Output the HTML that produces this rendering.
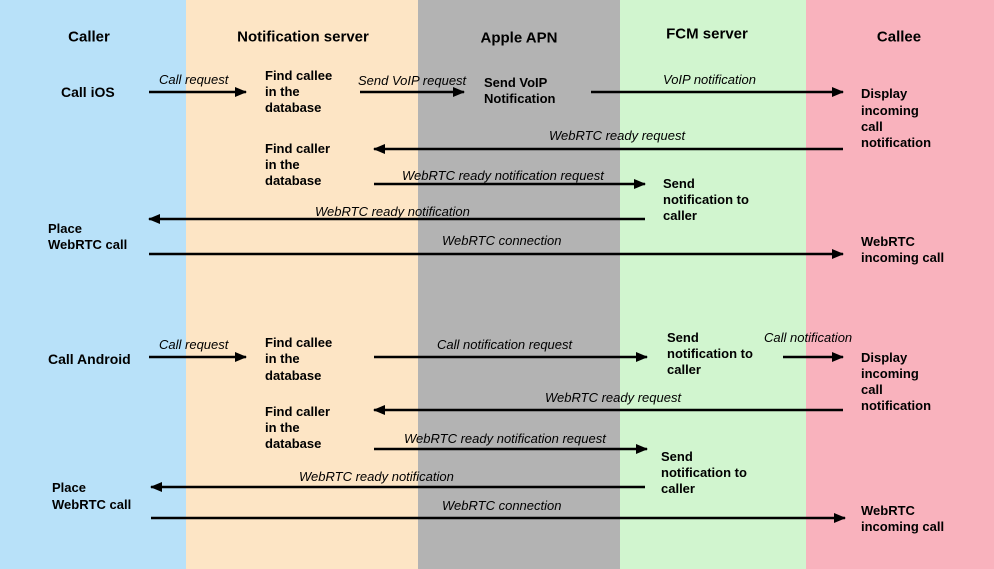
<!DOCTYPE html>
<html><head><meta charset="utf-8"><style>
html,body{margin:0;padding:0;width:994px;height:569px;overflow:hidden}
svg{display:block}
.h{font:bold 15px "Liberation Sans",sans-serif}
.n{font:bold 13px "Liberation Sans",sans-serif}
.l{font:italic 13px "Liberation Sans",sans-serif}
text{dominant-baseline:middle}
line{stroke:#000;stroke-width:2.5}
</style></head><body>
<svg width="994" height="569" viewBox="0 0 994 569" xmlns="http://www.w3.org/2000/svg">
<defs><marker id="a" markerWidth="12" markerHeight="10" refX="11" refY="5" orient="auto" markerUnits="userSpaceOnUse"><path d="M0,0 L12,5 L0,10 z" fill="#000"/></marker></defs>
<rect x="0" y="0" width="186" height="569" fill="#b8e1f9"/>
<rect x="186" y="0" width="232" height="569" fill="#fde5c5"/>
<rect x="418" y="0" width="202" height="569" fill="#b3b3b3"/>
<rect x="620" y="0" width="186" height="569" fill="#d1f5cf"/>
<rect x="806" y="0" width="188" height="569" fill="#f9b2bd"/>
<g marker-end="url(#a)">
<line x1="149" y1="92" x2="246" y2="92"/><line x1="360" y1="92" x2="464" y2="92"/><line x1="591" y1="92" x2="843" y2="92"/>
<line x1="843" y1="149" x2="374" y2="149"/><line x1="374" y1="184" x2="645" y2="184"/><line x1="645" y1="219" x2="149" y2="219"/><line x1="149" y1="254" x2="843" y2="254"/>
<line x1="149" y1="357" x2="246" y2="357"/><line x1="374" y1="357" x2="647" y2="357"/><line x1="783" y1="357" x2="843" y2="357"/>
<line x1="843" y1="410" x2="374" y2="410"/><line x1="374" y1="449" x2="647" y2="449"/><line x1="645" y1="487" x2="151" y2="487"/><line x1="151" y1="518" x2="845" y2="518"/>
</g>
<g transform="translate(0,1.5)">
<g class="h" text-anchor="middle">
<text x="89" y="36">Caller</text><text x="303" y="36">Notification server</text><text x="519" y="37">Apple APN</text><text x="707" y="33">FCM server</text><text x="899" y="36">Callee</text>
</g>
<g class="l">
<text x="159" y="79">Call request</text><text x="358" y="80">Send VoIP request</text><text x="663" y="79">VoIP notification</text>
<text x="549" y="135">WebRTC ready request</text><text x="402" y="175">WebRTC ready notification request</text><text x="315" y="211">WebRTC ready notification</text><text x="442" y="240">WebRTC connection</text>
<text x="159" y="344">Call request</text><text x="437" y="344">Call notification request</text><text x="764" y="337">Call notification</text>
<text x="545" y="397">WebRTC ready request</text><text x="404" y="438">WebRTC ready notification request</text><text x="299" y="476">WebRTC ready notification</text><text x="442" y="505">WebRTC connection</text>
</g>
<g class="n">
<text x="61" y="92" style="font-size:14px">Call iOS</text>
<text x="265" y="75">Find callee</text><text x="265" y="91">in the</text><text x="265" y="107">database</text>
<text x="484" y="82">Send VoIP</text><text x="484" y="98">Notification</text>
<text x="861" y="93">Display</text><text x="861" y="110">incoming</text><text x="861" y="126">call</text><text x="861" y="142">notification</text>
<text x="265" y="148">Find caller</text><text x="265" y="164">in the</text><text x="265" y="180">database</text>
<text x="663" y="183">Send</text><text x="663" y="199">notification to</text><text x="663" y="215">caller</text>
<text x="48" y="228">Place</text><text x="48" y="244">WebRTC call</text>
<text x="861" y="241">WebRTC</text><text x="861" y="257">incoming call</text>
<text x="48" y="359" style="font-size:14px">Call Android</text>
<text x="265" y="342">Find callee</text><text x="265" y="358">in the</text><text x="265" y="375">database</text>
<text x="667" y="337">Send</text><text x="667" y="353">notification to</text><text x="667" y="369">caller</text>
<text x="861" y="357">Display</text><text x="861" y="373">incoming</text><text x="861" y="389">call</text><text x="861" y="405">notification</text>
<text x="265" y="411">Find caller</text><text x="265" y="427">in the</text><text x="265" y="443">database</text>
<text x="661" y="456">Send</text><text x="661" y="472">notification to</text><text x="661" y="488">caller</text>
<text x="52" y="487">Place</text><text x="52" y="504">WebRTC call</text>
<text x="861" y="510">WebRTC</text><text x="861" y="526">incoming call</text>
</g>
</g>
</svg>
</body></html>
